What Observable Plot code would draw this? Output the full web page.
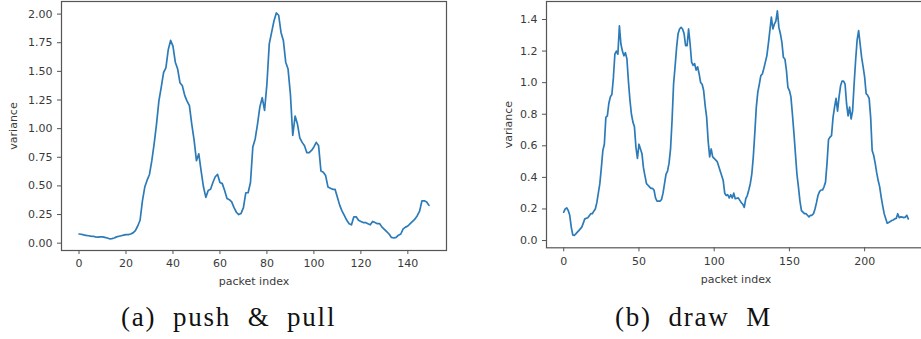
<!DOCTYPE html>
<html>
<head>
<meta charset="utf-8">
<script src="https://cdn.jsdelivr.net/npm/d3@7"></script>
<script src="https://cdn.jsdelivr.net/npm/@observablehq/plot@0.6"></script>
<style>
  html, body { margin: 0; padding: 0; background: #fff; }
  body { width: 921px; height: 339px; overflow: hidden; position: relative; }
  .panel { position: absolute; top: 0; }
  .panel svg { max-width: none !important; }
  .cap { position: absolute; font-family: "Liberation Serif", serif; font-size: 27px; letter-spacing: 1.8px; word-spacing: 8px; color: #111; white-space: nowrap; line-height: 1; }
</style>
</head>
<body>
<div id="a" class="panel" style="left:0px; width:460px"></div>
<div id="b" class="panel" style="left:460px; width:480px"></div>
<div class="cap" id="capA" style="left:121px; top:304px">(a) push &amp; pull</div>
<div class="cap" id="capB" style="left:615px; top:304px">(b) draw M</div>
<script>
// ---- (a) push & pull ----
const pushIdx = [0,1,2,3,4,5,6,7,8,9,10,11,12,13,14,15,16,17,18,19,20,21,22,23,24,25,26,27,28,29,30,31,32,33,34,35,36,37,38,39,40,41,42,43,44,45,46,47,48,49,50,51,52,53,54,55,56,57,58,59,60,61,62,63,64,65,66,67,68,69,70,71,72,73,74,75,76,77,78,79,80,81,82,83,84,85,86,87,88,89,90,91,92,93,94,95,96,97,98,99,100,101,102,103,104,105,106,107,108,109,110,111,112,113,114,115,116,117,118,119,120,121,122,123,124,125,126,127,128,129,130,131,132,133,134,135,136,137,138,139,140,141,142,143,144,145,146,147,148,149];
const pushVar = [0.08,0.078,0.072,0.068,0.065,0.062,0.06,0.055,0.052,0.055,0.055,0.05,0.045,0.038,0.04,0.045,0.055,0.06,0.065,0.07,0.075,0.075,0.08,0.09,0.11,0.15,0.2,0.37,0.49,0.55,0.6,0.72,0.87,1.04,1.24,1.36,1.49,1.53,1.69,1.77,1.72,1.58,1.52,1.40,1.375,1.29,1.24,1.2,1.04,0.9,0.72,0.78,0.63,0.49,0.40,0.46,0.47,0.53,0.58,0.6,0.53,0.52,0.46,0.39,0.38,0.36,0.31,0.27,0.25,0.26,0.31,0.44,0.44,0.53,0.84,0.91,1.04,1.19,1.27,1.16,1.39,1.74,1.84,1.94,2.01,1.99,1.84,1.77,1.58,1.52,1.30,0.94,1.11,1.04,0.92,0.88,0.85,0.79,0.79,0.81,0.84,0.88,0.85,0.63,0.62,0.59,0.49,0.48,0.47,0.47,0.40,0.33,0.28,0.24,0.20,0.17,0.16,0.23,0.23,0.2,0.19,0.18,0.18,0.17,0.16,0.19,0.18,0.17,0.17,0.14,0.12,0.10,0.08,0.05,0.045,0.05,0.07,0.08,0.125,0.14,0.15,0.17,0.19,0.21,0.24,0.28,0.37,0.37,0.36,0.33];
const pushXTicks = [0,20,40,60,80,100,120,140];
const pushYTicks = [0,0.25,0.5,0.75,1.0,1.25,1.5,1.75,2.0];

// ---- (b) draw M ----
const drawIdx = [0,1,2,3,4,5,6,7,8,10,12,13,14,16,18,19,20,21,22,23,24,25,26,27,28,29,30,31,32,33,34,35,36,37,38,39,40,41,42,43,44,45,46,47,48,49,50,51,52,53,54,55,56,57,58,59,60,61,62,63,64,65,66,67,68,69,70,71,72,73,74,75,76,77,78,79,80,81,82,83,84,85,86,87,88,89,90,91,92,93,94,95,96,97,98,99,100,102,104,106,107,108,109,110,111,112,113,114,116,118,119,120,121,122,123,124,125,126,127,128,129,130,131,132,133,134,135,136,137,138,139,140,141,142,143,144,145,146,147,148,149,150,151,152,153,154,155,156,157,158,159,160,161,162,163,164,165,166,167,168,169,170,171,172,173,174,175,176,177,178,179,180,181,182,183,184,185,186,187,188,189,190,191,192,193,194,195,196,197,198,199,200,201,202,203,204,205,206,207,208,209,210,211,212,213,214,215,216,217,218,219,220,221,222,223,224,225,226,227,228,229];
const drawVar = [0.18,0.20,0.207,0.19,0.16,0.085,0.036,0.032,0.042,0.063,0.085,0.11,0.137,0.144,0.17,0.17,0.186,0.20,0.24,0.30,0.36,0.46,0.57,0.61,0.78,0.79,0.87,0.91,0.925,1.03,1.18,1.20,1.18,1.36,1.245,1.20,1.17,1.19,1.15,1.01,0.89,0.80,0.75,0.72,0.59,0.52,0.61,0.58,0.55,0.46,0.41,0.36,0.35,0.34,0.33,0.33,0.32,0.27,0.25,0.25,0.25,0.26,0.30,0.36,0.42,0.44,0.49,0.58,0.76,0.99,1.10,1.22,1.31,1.34,1.35,1.34,1.31,1.235,1.235,1.34,1.245,1.13,1.11,1.12,1.08,1.10,1.055,1.00,0.99,0.95,0.855,0.78,0.63,0.53,0.58,0.53,0.52,0.50,0.44,0.38,0.30,0.285,0.29,0.27,0.29,0.27,0.30,0.265,0.27,0.24,0.23,0.21,0.265,0.285,0.32,0.36,0.42,0.53,0.68,0.845,0.94,0.99,1.045,1.055,1.09,1.13,1.17,1.245,1.33,1.415,1.34,1.37,1.39,1.455,1.35,1.31,1.255,1.16,1.15,1.08,0.97,0.95,0.91,0.80,0.68,0.55,0.42,0.34,0.25,0.19,0.18,0.17,0.17,0.16,0.15,0.16,0.16,0.17,0.20,0.24,0.285,0.31,0.32,0.32,0.34,0.37,0.49,0.64,0.655,0.665,0.78,0.845,0.90,0.82,0.91,0.98,1.01,1.01,0.99,0.865,0.79,0.845,0.77,0.82,0.99,1.14,1.27,1.33,1.245,1.16,1.10,1.035,0.93,0.92,0.90,0.78,0.57,0.54,0.49,0.43,0.38,0.34,0.275,0.22,0.17,0.14,0.11,0.115,0.12,0.127,0.13,0.137,0.14,0.17,0.145,0.15,0.148,0.145,0.148,0.16,0.137];
const drawXTicks = [0,50,100,150,200];
const drawYTicks = [0,0.2,0.4,0.6,0.8,1.0,1.2,1.4];

const LINE = "#2c7bb8";
const FRAME = "#555";
const TEXT = "#3a3a3a";

function panel(xs, ys, opts) {
  const data = xs.map((x, i) => ({x, y: ys[i]}));
  return Plot.plot({
    width: opts.width,
    height: 300,
    marginLeft: opts.ml,
    marginRight: opts.mr,
    marginTop: 1,
    marginBottom: opts.mb,
    style: {fontFamily: "DejaVu Sans", fontSize: "11px", color: TEXT, background: "transparent", overflow: "visible", maxWidth: "none"},
    x: {domain: opts.xd},
    y: {domain: opts.yd},
    marks: [
      Plot.frame({stroke: FRAME, strokeWidth: 1.2}),
      Plot.axisY({ticks: opts.yt, tickFormat: opts.yf, tickSize: 4, tickPadding: 5, stroke: FRAME, fill: TEXT, fontSize: 11,
        label: "variance", labelAnchor: "center", labelOffset: opts.ylo, labelArrow: "none"}),
      Plot.axisX({ticks: opts.xt, tickFormat: d => String(d), tickSize: 4, tickPadding: 5, stroke: FRAME, fill: TEXT, fontSize: 11,
        label: "packet index", labelAnchor: "center", labelOffset: opts.xlo, labelArrow: "none"}),
      Plot.lineY(data, {x: "x", y: "y", stroke: LINE, strokeWidth: 1.7, curve: "linear"})
    ]
  });
}

document.getElementById("a").append(panel(pushIdx, pushVar, {
  width: 460, ml: 61, mr: 14, mb: 50,
  xd: [-7.45, 156.45], yd: [-0.064, 2.11],
  xt: pushXTicks, yt: pushYTicks, yf: d3.format(".2f"), ylo: 52, xlo: 34
}));
document.getElementById("b").append(panel(drawIdx, drawVar, {
  width: 480, ml: 86, mr: 15, mb: 52.7,
  xd: [-11.45, 240.45], yd: [-0.046, 1.514],
  xt: drawXTicks, yt: drawYTicks, yf: d3.format(".1f"), ylo: 42, xlo: 35
}));
</script>
</body>
</html>
